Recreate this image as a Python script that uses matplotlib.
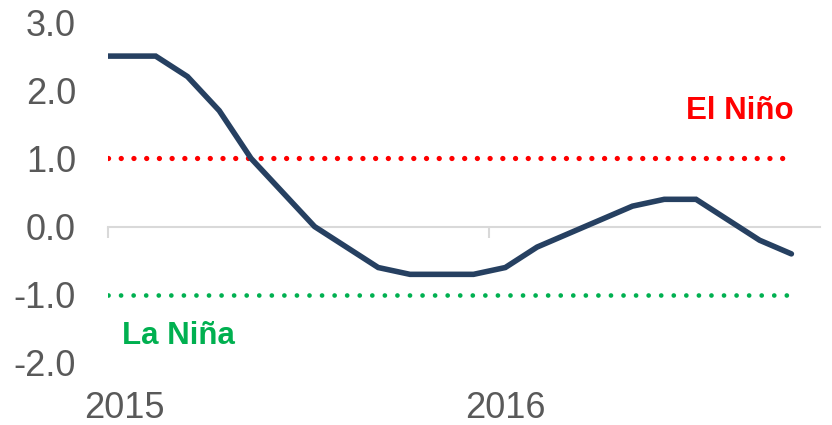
import numpy as np
import matplotlib
matplotlib.use("Agg")
import matplotlib.pyplot as plt

plt.rcParams['font.family'] = ['Liberation Sans', 'DejaVu Sans']

# month index, 0 = Jan 2015 (first value sits half a month before)
months = [-0.5, 0, 1, 2, 3, 4, 5, 6, 7, 8, 9, 10, 11,
          12, 13, 14, 15, 16, 17, 18, 19, 20, 21]
oni = [2.5, 2.5, 2.5, 2.2, 1.7, 1.0, 0.5, 0.0, -0.3, -0.6, -0.7, -0.7, -0.7,
       -0.6, -0.3, -0.1, 0.1, 0.3, 0.4, 0.4, 0.1, -0.2, -0.4]

el_nino = 1.0
la_nina = -1.0
year_pos = [0, 12]
year_labels = ['2015', '2016']
year_bounds = [-0.5, 11.5]
yticks = [-2, -1, 0, 1, 2, 3]

grey = '#595959'

fig = plt.figure(figsize=(8.32, 4.25), dpi=100)
ax = fig.add_axes([108 / 832, 1 - 363 / 425, (820 - 108) / 832, (363 - 22) / 425])

ax.hlines(el_nino, -0.5, 20.85, color='#ff0000', lw=3.8,
          linestyle=(0, (0.01, 2.4)), capstyle='round')
ax.hlines(la_nina, -0.5, 20.85, color='#00b050', lw=3.4,
          linestyle=(0, (0.01, 2.65)), capstyle='round')

ax.plot(months, oni, color='#264061', lw=4, solid_joinstyle='miter',
        solid_capstyle='round', zorder=3)

ax.text(21.08, 1.69, 'El Niño', color='#ff0000', fontsize=22.5, fontweight='bold',
        ha='right', va='center')
ax.text(-0.05, -1.61, 'La Niña', color='#00b050', fontsize=22.5, fontweight='bold',
        ha='left', va='center')

ax.set_xlim(-0.5, 21.9)
ax.set_ylim(-2, 3)

for s in ['top', 'right', 'left']:
    ax.spines[s].set_visible(False)
ax.spines['bottom'].set_position(('data', 0))
ax.spines['bottom'].set_color('#d9d9d9')
ax.spines['bottom'].set_linewidth(1.5)

ax.set_xticks(year_bounds)
ax.set_xticklabels([])
ax.tick_params(axis='x', direction='out', length=8, width=1.5, color='#d9d9d9')

ax.set_yticks(yticks)
ax.set_yticklabels([f'{v:.1f}' for v in yticks])
ax.tick_params(axis='y', length=0, pad=23, labelsize=26, labelcolor=grey)

sec = ax.secondary_xaxis(location=0)
sec.set_xticks(year_pos)
sec.set_xticklabels(year_labels)
sec.tick_params(length=0, pad=20, labelsize=26, labelcolor=grey)
sec.spines['bottom'].set_visible(False)

fig.savefig('out.png', dpi=100)
